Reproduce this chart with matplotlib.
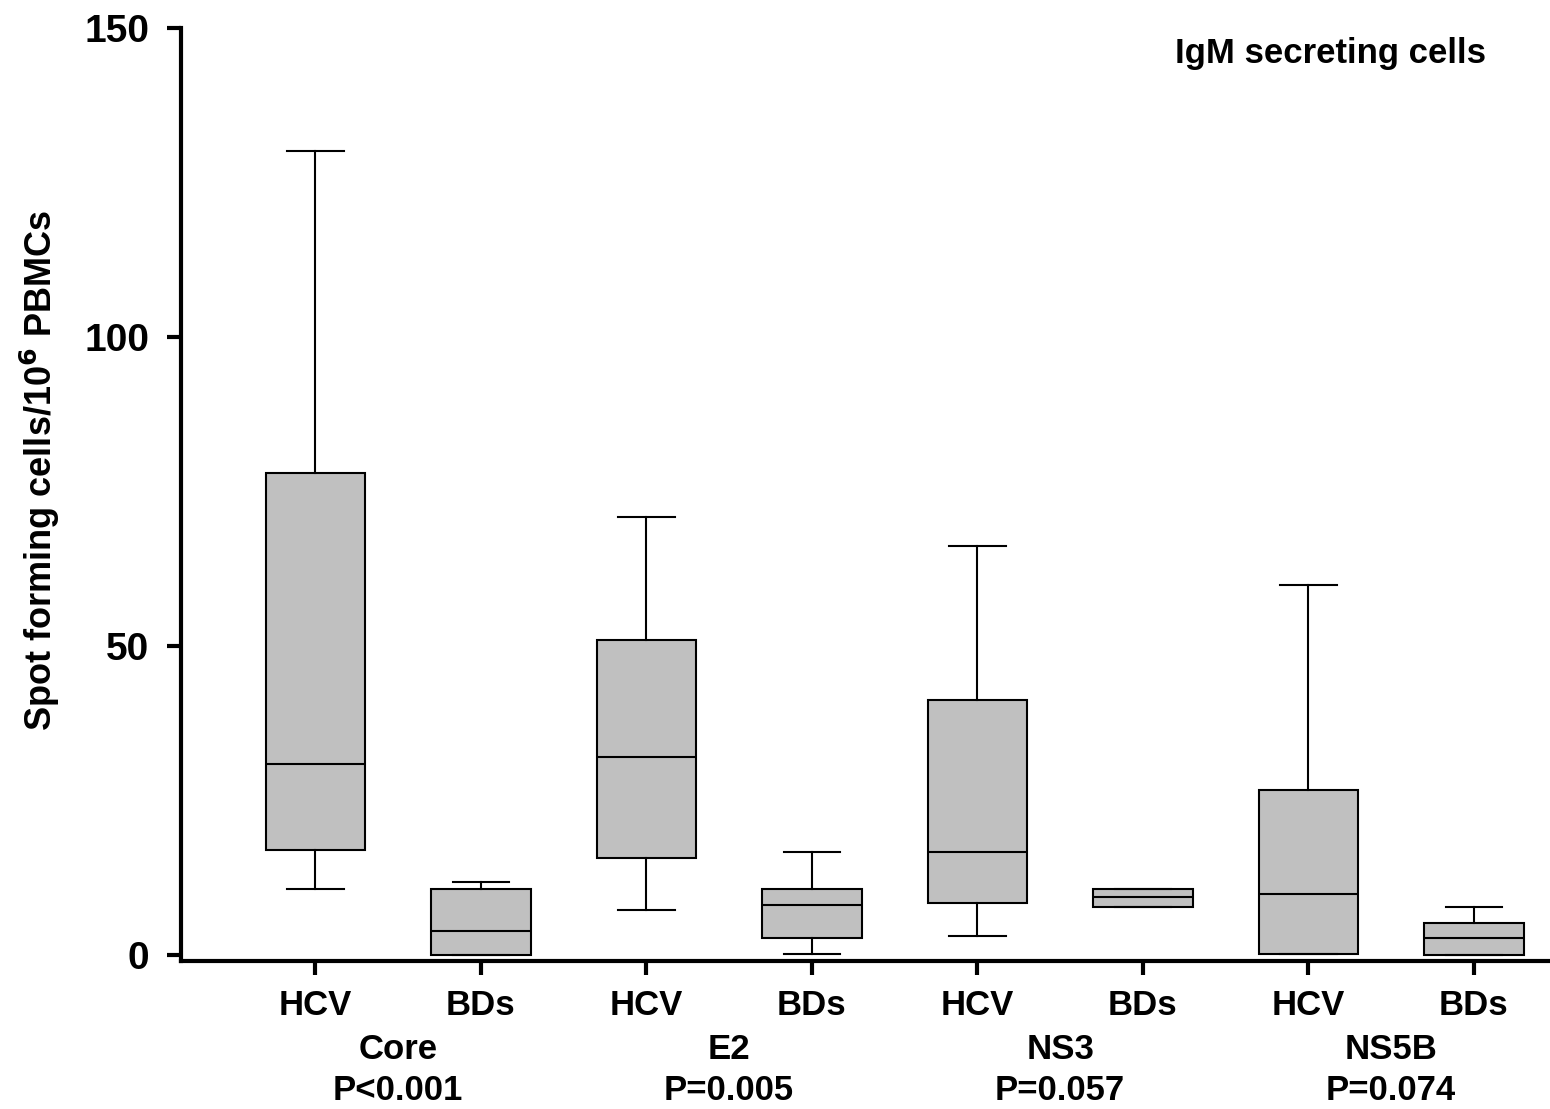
import matplotlib
matplotlib.use("Agg")
import matplotlib.pyplot as plt

plt.rcParams['font.family'] = ['Liberation Sans', 'DejaVu Sans']
plt.rcParams['font.weight'] = 'bold'

# box statistics (spot forming cells / 10^6 PBMCs)
groups = ['HCV', 'BDs', 'HCV', 'BDs', 'HCV', 'BDs', 'HCV', 'BDs']
antigens = ['Core', 'E2', 'NS3', 'NS5B']
pvalues = ['P<0.001', 'P=0.005', 'P=0.057', 'P=0.074']
whislo = [10.8, 0.0, 7.4, 0.3, 3.2, 7.9, 0.2, 0.0]
q1 = [17.0, 0.0, 15.7, 2.8, 8.4, 7.9, 0.3, 0.0]
med = [31.0, 4.0, 32.0, 8.1, 16.7, 9.4, 10.0, 2.8]
q3 = [78.0, 10.7, 51.0, 10.7, 41.3, 10.7, 26.7, 5.3]
whishi = [130.0, 11.9, 70.9, 16.7, 66.2, 10.7, 59.9, 7.8]

stats = []
for i in range(len(groups)):
    stats.append({'whislo': whislo[i], 'q1': q1[i], 'med': med[i],
                  'q3': q3[i], 'whishi': whishi[i], 'fliers': []})

fig = plt.figure(figsize=(15.5, 11.09), dpi=100)
ax = fig.add_axes([0.117, 0.1335, 0.883, 0.8415])

positions = list(range(1, len(groups) + 1))
ax.bxp(stats, positions=positions, widths=0.6, patch_artist=True,
       showfliers=False,
       boxprops=dict(facecolor='#c0c0c0', edgecolor='black', linewidth=1.5),
       medianprops=dict(color='black', linewidth=1.5),
       whiskerprops=dict(color='black', linewidth=1.5),
       capprops=dict(color='black', linewidth=1.5),
       capwidths=0.34)

ax.set_xlim(0.19, 8.46)
ax.set_ylim(-0.9, 150)
ax.set_yticks([0, 50, 100, 150])
ax.set_xticks(positions)
ax.set_xticklabels(groups)

for s in ['top', 'right']:
    ax.spines[s].set_visible(False)
for s in ['left', 'bottom']:
    ax.spines[s].set_linewidth(3)
ax.spines['left'].set_bounds(-0.9, 150)

ax.tick_params(axis='both', length=10, width=3)
ax.tick_params(axis='x', labelsize=25, pad=10)
ax.tick_params(axis='y', labelsize=28, pad=13)
for lab in ax.get_xticklabels() + ax.get_yticklabels():
    lab.set_fontweight('bold')

# antigen names and p values under each pair
for k in range(len(antigens)):
    xc = positions[2 * k] + 0.5
    ax.text(xc, -0.095, antigens[k], transform=ax.get_xaxis_transform(),
            ha='center', va='center', fontsize=25, fontweight='bold')
    ax.text(xc, -0.139, pvalues[k], transform=ax.get_xaxis_transform(),
            ha='center', va='center', fontsize=25, fontweight='bold')

ax.set_ylabel('Spot forming cells/10$^{\\mathbf{6}}$ PBMCs', fontsize=26,
              fontweight='bold', va='center')
ax.yaxis.set_label_coords(-0.103, 0.526)
ax.text(0.953, 0.972, 'IgM secreting cells', transform=ax.transAxes,
        ha='right', va='center', fontsize=25, fontweight='bold')

fig.savefig('out.png', dpi=100)
